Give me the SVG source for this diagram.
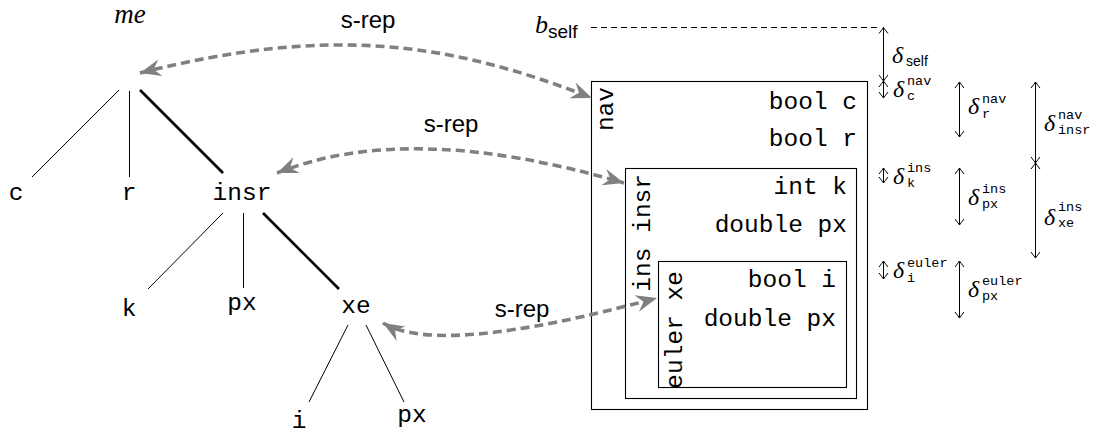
<svg xmlns="http://www.w3.org/2000/svg" width="1105" height="436" viewBox="0 0 1105 436">
<style>
.tt{font-family:"Liberation Mono","DejaVu Sans Mono",monospace;font-size:24.5px;fill:#000}
.ttr{font-family:"Liberation Mono","DejaVu Sans Mono",monospace;font-size:24.5px;fill:#000;text-anchor:end}
.tree{font-family:"Liberation Mono","DejaVu Sans Mono",monospace;font-size:24.5px;fill:#000;text-anchor:middle}
.sf{font-family:"Liberation Sans","DejaVu Sans",sans-serif;font-size:24px;fill:#000;text-anchor:middle}
.mi{font-family:"Liberation Serif","DejaVu Serif",serif;font-style:italic;fill:#000}
.sub{font-family:"Liberation Mono","DejaVu Sans Mono",monospace;font-size:13.5px;fill:#000}
.ssub{font-family:"Liberation Sans","DejaVu Sans",sans-serif;fill:#000}
.thin{stroke:#000;stroke-width:1;fill:none}
.thick{stroke:#000;stroke-width:2.6;fill:none}
.box{stroke:#000;stroke-width:1.1;fill:none}
.srep{stroke:#808080;stroke-width:3.6;stroke-dasharray:9 5;fill:none;marker-start:url(#head);marker-end:url(#head)}
.dim{stroke:#000;stroke-width:1;fill:none;marker-start:url(#to);marker-end:url(#to)}
</style>
<defs>
<marker id="head" viewBox="-24 -12 26 24" refX="0" refY="0" markerWidth="26" markerHeight="24" markerUnits="userSpaceOnUse" orient="auto-start-reverse">
<path d="M0,0 L-21,-8.5 L-14,0 L-21,8.5 Z" fill="#808080"/>
</marker>
<marker id="to" viewBox="-8 -7 10 14" refX="0" refY="0" markerWidth="10" markerHeight="14" markerUnits="userSpaceOnUse" orient="auto-start-reverse">
<path d="M-6,-4.5 Q-1.5,-1 0,0 Q-1.5,1 -6,4.5" fill="none" stroke="#000" stroke-width="1"/>
</marker>
</defs>

<g id="tree-edges">
<line class="thin" x1="119" y1="90" x2="32" y2="177"/>
<line class="thin" x1="129.5" y1="91" x2="129.5" y2="177"/>
<line class="thick" x1="140" y1="90" x2="223" y2="173"/>
<line class="thin" x1="223" y1="213" x2="148" y2="289"/>
<line class="thin" x1="243.5" y1="213" x2="243.5" y2="288"/>
<line class="thick" x1="263" y1="213" x2="339" y2="289"/>
<line class="thin" x1="348" y1="325" x2="309" y2="402"/>
<line class="thin" x1="366" y1="325" x2="404" y2="402"/>
</g>

<g id="node-me"><text class="mi" x="130" y="23" font-size="27" text-anchor="middle">me</text></g>
<g id="node-c"><text class="tree" x="16" y="200">c</text></g>
<g id="node-r"><text class="tree" x="129" y="200">r</text></g>
<g id="node-insr"><text class="tree" x="242" y="200">insr</text></g>
<g id="node-k"><text class="tree" x="129" y="316">k</text></g>
<g id="node-px1"><text class="tree" x="242" y="310">px</text></g>
<g id="node-xe"><text class="tree" x="356" y="313">xe</text></g>
<g id="node-i"><text class="tree" x="299" y="428">i</text></g>
<g id="node-px2"><text class="tree" x="412" y="422">px</text></g>

<g id="box-nav">
<rect class="box" x="591.5" y="81.5" width="276" height="328"/>
<text class="tt" transform="translate(613,87) rotate(-90)" text-anchor="end">nav</text>
<text class="ttr" x="857" y="109">bool c</text>
<text class="ttr" x="857" y="146">bool r</text>
</g>
<g id="box-insr">
<rect class="box" x="625.5" y="168.5" width="231" height="230"/>
<text class="tt" transform="translate(650,174) rotate(-90)" text-anchor="end">ins insr</text>
<text class="ttr" x="847" y="194">int k</text>
<text class="ttr" x="847" y="232">double px</text>
</g>
<g id="box-euler">
<rect class="box" x="658.5" y="261.5" width="188" height="126"/>
<text class="tt" transform="translate(682,271) rotate(-90)" text-anchor="end">euler xe</text>
<text class="ttr" x="836" y="287">bool i</text>
<text class="ttr" x="836" y="326">double px</text>
</g>

<g id="connectors">
<path class="srep" d="M140,73 C330,25 450,42 592,98"/>
<path class="srep" d="M277,173 Q410,120 624,183"/>
<path class="srep" d="M383,323 Q440,357 657,298"/>
</g>
<g id="connector-labels">
<text class="sf" x="368" y="28">s-rep</text>
<text class="sf" x="451" y="132">s-rep</text>
<text class="sf" x="522" y="317">s-rep</text>
</g>

<g id="bself">
<text class="mi" x="535" y="33" font-size="26">b</text>
<text class="ssub" x="548" y="38" font-size="19">self</text>
<line x1="591" y1="27.5" x2="877" y2="27.5" stroke="#000" stroke-width="1" stroke-dasharray="6 4"/>
</g>

<g id="dimensions">
<path class="dim" d="M883.5,27.5 V81"/>
<path class="dim" d="M883.5,81 V98"/>
<path class="dim" d="M883.5,168 V183"/>
<path class="dim" d="M883.5,261 V279"/>
<path class="dim" d="M959.5,82 V137"/>
<path class="dim" d="M959.5,168 V225"/>
<path class="dim" d="M959.5,261 V318"/>
<path class="dim" d="M1035.5,82 V163"/>
<path class="dim" d="M1035.5,163 V258"/>
</g>
<g id="dim-labels">
<text class="mi" x="892" y="63" font-size="24">δ</text><text class="ssub" x="906" y="66" font-size="14">self</text>
<text class="mi" x="893" y="97" font-size="24">δ</text><text class="sub" x="907" y="85">nav</text><text class="sub" x="907" y="100">c</text>
<text class="mi" x="968" y="114" font-size="24">δ</text><text class="sub" x="982" y="103">nav</text><text class="sub" x="982" y="118">r</text>
<text class="mi" x="1044" y="131" font-size="24">δ</text><text class="sub" x="1058" y="119">nav</text><text class="sub" x="1058" y="134">insr</text>
<text class="mi" x="893" y="184" font-size="24">δ</text><text class="sub" x="907" y="172">ins</text><text class="sub" x="907" y="187">k</text>
<text class="mi" x="968" y="205" font-size="24">δ</text><text class="sub" x="982" y="193">ins</text><text class="sub" x="982" y="208">px</text>
<text class="mi" x="1044" y="225" font-size="24">δ</text><text class="sub" x="1058" y="211">ins</text><text class="sub" x="1058" y="227">xe</text>
<text class="mi" x="893" y="278" font-size="24">δ</text><text class="sub" x="907" y="267">euler</text><text class="sub" x="907" y="282">i</text>
<text class="mi" x="968" y="297" font-size="24">δ</text><text class="sub" x="982" y="285">euler</text><text class="sub" x="982" y="300">px</text>
</g>
</svg>
